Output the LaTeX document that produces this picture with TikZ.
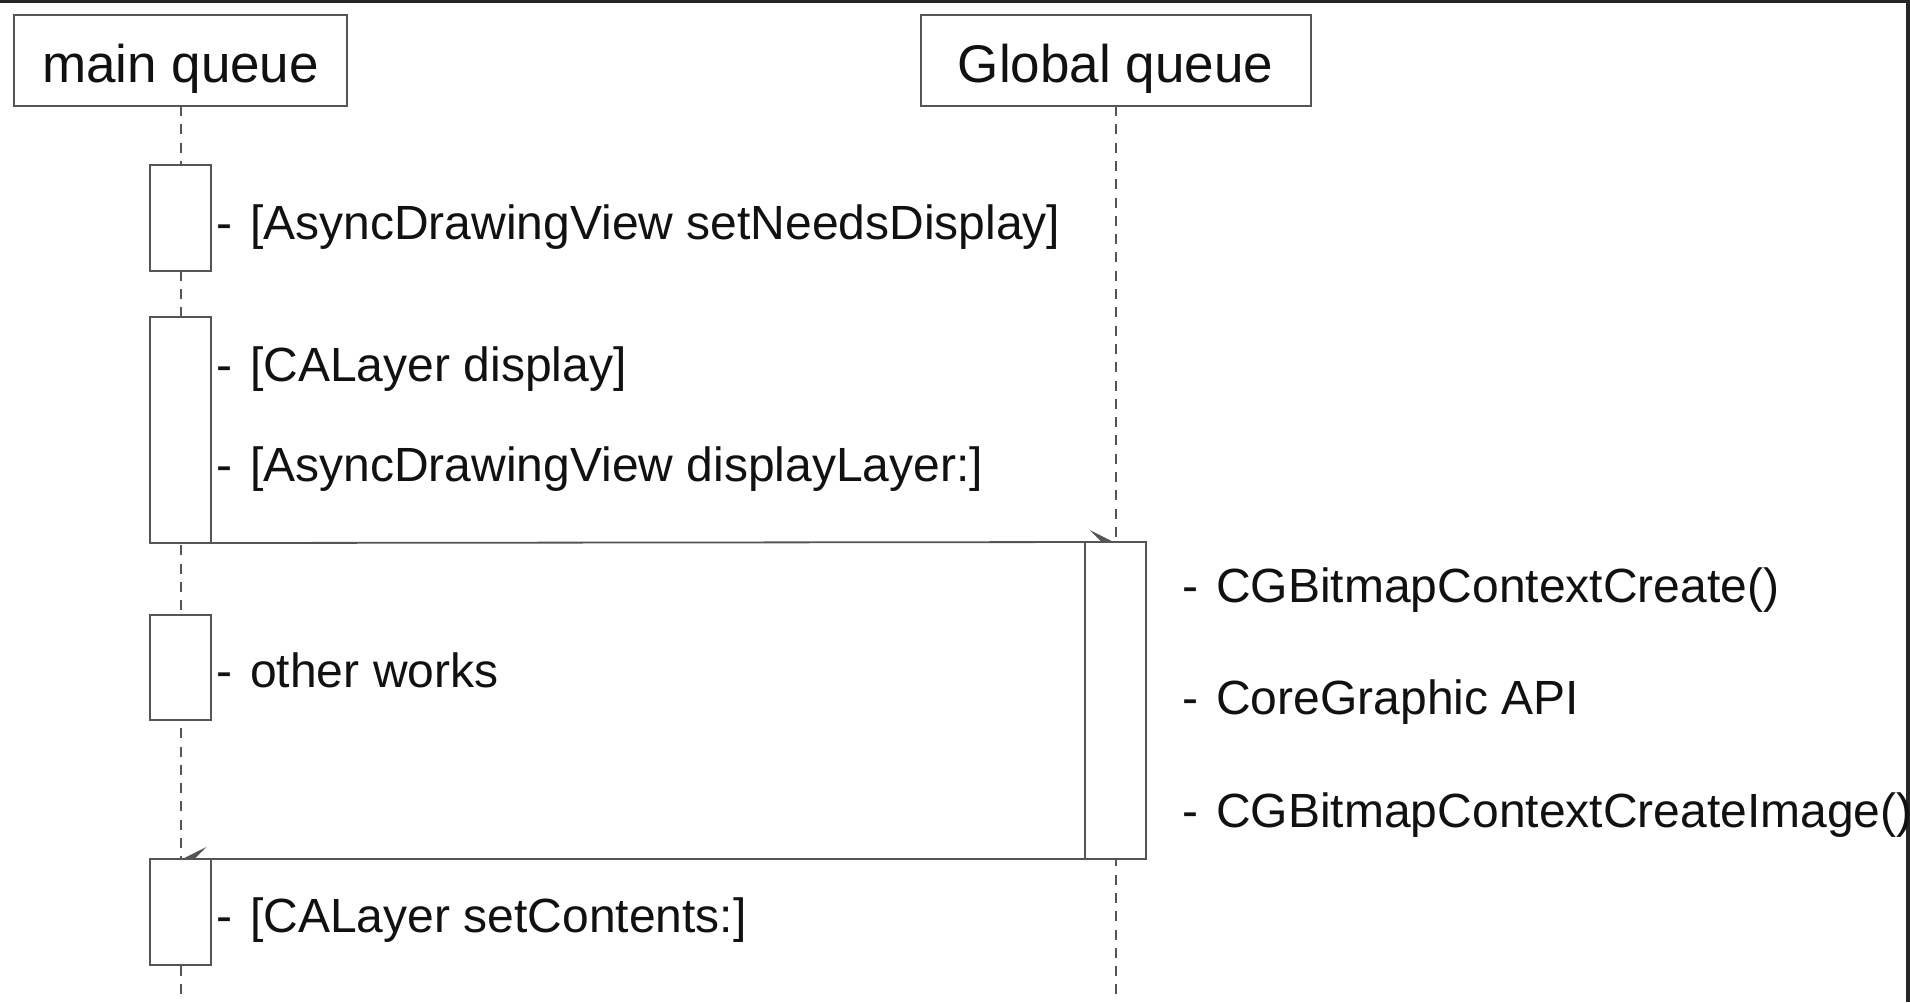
\documentclass[tikz,border=0pt]{standalone}
\usepackage{fontspec}
\setmainfont{Liberation Sans}
\usetikzlibrary{arrows.meta}
\definecolor{linegray}{HTML}{555555}
\definecolor{txt}{HTML}{111111}
% a step label: a dash, a slightly wide gap, then the text
\newcommand{\steptext}[1]{-\kern5pt\ #1}

\begin{document}
\begin{tikzpicture}[x=1pt,y=-1pt,
  every node/.style={inner sep=0pt, outer sep=0pt, text=txt},
  header/.style={draw=linegray, line width=2pt, fill=white, minimum height=91pt,
    text height=50pt, text depth=7pt, font=\fontsize{53}{60}\selectfont},
  actbox/.style={draw=linegray, line width=2pt, fill=white, minimum width=61pt},
  lifeline/.style={draw=linegray, line width=2pt, dash pattern=on 10pt off 8.3pt},
  msg/.style={anchor=base west, font=\fontsize{48}{56}\selectfont},
  callright/.style={draw=linegray, line width=1.8pt,
    -{Stealth[left, length=24pt, width=24pt, inset=12pt]}},
  callleft/.style={draw=linegray, line width=1.8pt,
    -{Stealth[right, length=24pt, width=24pt, inset=12pt]}}
]
\useasboundingbox (0,0) rectangle (1910,1002);
\fill[white] (0,0) rectangle (1910,1002);
% window frame edges
\fill[black!85] (0,0) rectangle (1910,3);
\fill[black!85] (1906,0) rectangle (1910,1002);

% participants
\node[header, minimum width=333pt] (mq) at (180.5,60.5) {main queue};
\node[header, minimum width=390pt] (gq) at (1115.5,60.5) {Global queue};

% lifelines
\coordinate (mqend) at (180.5,1002);
\coordinate (gqend) at (1115.5,1002);
\draw[lifeline] (mq.south) -- (mqend);
\draw[lifeline] (gq.south) -- (gqend);

% activations on the main queue
\node[actbox, minimum height=106pt] (a1) at (180.5,218) {};
\node[actbox, minimum height=226pt] (a2) at (180.5,430) {};
\node[actbox, minimum height=105pt] (a3) at (180.5,667.5) {};
\node[actbox, minimum height=106pt] (a4) at (180.5,912) {};

% activation on the global queue
\node[actbox, minimum height=317pt] (g1) at (1115.5,700.5) {};

% dispatch and return
\draw[callright] (a2.south east) -- (g1.north);
\draw[callleft] (g1.south west) -- (a4.north);

% main queue steps
\node[msg] (m1) at (216,239) {\steptext{[AsyncDrawingView setNeedsDisplay]}};
\node[msg] (m2) at (216,381) {\steptext{[CALayer display]}};
\node[msg] (m3) at (216,481) {\steptext{[AsyncDrawingView displayLayer:]}};
\node[msg] (m4) at (216,687) {\steptext{other works}};
\node[msg] (m5) at (216,932) {\steptext{[CALayer setContents:]}};

% global queue steps
\node[msg] (g2) at (1182,602) {\steptext{CGBitmapContextCreate()}};
\node[msg] (g3) at (1182,714) {\steptext{CoreGraphic API}};
\node[msg] (g4) at (1182,827) {\steptext{CGBitmapContextCreateImage()}};
\end{tikzpicture}
\end{document}
